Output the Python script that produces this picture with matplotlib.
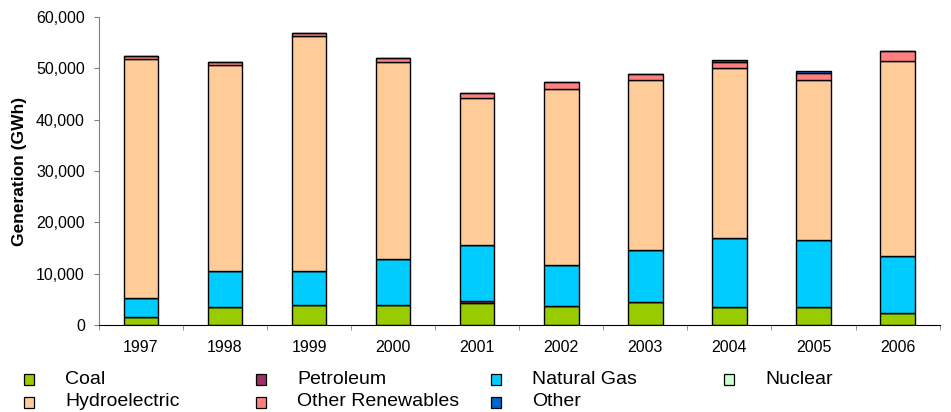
import numpy as np
import matplotlib.pyplot as plt
from matplotlib.patches import Rectangle
from matplotlib.ticker import FuncFormatter

plt.rcParams['font.family'] = ['Liberation Sans', 'DejaVu Sans']

years = ['1997', '1998', '1999', '2000', '2001', '2002', '2003', '2004', '2005', '2006']

# generation by source, GWh
coal = [1480, 3500, 3820, 3820, 4340, 3700, 4400, 3430, 3430, 2260]
petroleum = [40, 40, 40, 40, 400, 60, 60, 40, 40, 40]
natural_gas = [3740, 6980, 6660, 9060, 10770, 7990, 10210, 13480, 13150, 11140]
nuclear = [0, 0, 0, 0, 0, 0, 0, 0, 0, 0]
hydro = [46560, 40060, 45710, 38320, 28770, 34210, 32980, 33040, 31110, 38050]
other_renew = [640, 720, 650, 700, 910, 1290, 1300, 1310, 1420, 1820]
other = [0, 0, 0, 0, 0, 0, 0, 320, 390, 0]

series = [
    ('Coal', coal, '#99CC00'),
    ('Petroleum', petroleum, '#993366'),
    ('Natural Gas', natural_gas, '#00CCFF'),
    ('Nuclear', nuclear, '#CCFFCC'),
    ('Hydroelectric', hydro, '#FFCC99'),
    ('Other Renewables', other_renew, '#FF8080'),
    ('Other', other, '#0066CC'),
]

fig = plt.figure(figsize=(9.51, 4.12), dpi=100)
ax = fig.add_axes([0.104, 0.211, 0.884, 0.748])

x = np.arange(len(years))
bottom = np.zeros(len(years))
for name, vals, col in series:
    vals = np.array(vals, dtype=float)
    ax.bar(x, vals, width=0.41, bottom=bottom, color=col,
           edgecolor='black', linewidth=1.0)
    bottom += vals

ax.set_xlim(-0.5, len(years) - 0.5)
ax.set_ylim(0, 60000)
ax.set_yticks(np.arange(0, 60001, 10000))
ax.yaxis.set_major_formatter(FuncFormatter(lambda v, p: f'{int(v):,}'))
ax.set_xticks(x)
ax.set_xticklabels(years)
ax.set_xticks(np.arange(-0.5, len(years), 1), minor=True)
ax.tick_params(axis='x', which='major', length=0, labelsize=11.5, pad=11)
ax.tick_params(axis='x', which='minor', length=3.5, color='#808080')
ax.tick_params(axis='y', length=3.6, labelsize=11.5, color='#808080', pad=6.5)
ax.spines['top'].set_visible(False)
ax.spines['right'].set_visible(False)
ax.spines['left'].set_color('#808080')
ax.spines['bottom'].set_color('black')
ax.set_ylabel('Generation (GWh)', fontsize=12.5, fontweight='bold')
ax.yaxis.set_label_coords(-0.086, 0.5)

# legend laid out in an evenly spaced grid below the axes
col_x = [29, 261, 496, 729]
row_y = [379, 402]
W, H = 951.0, 412.0
for i, (name, vals, col) in enumerate(series):
    r, c = divmod(i, 4)
    mx, my = col_x[c], row_y[r]
    fig.add_artist(Rectangle(((mx - 5) / W, 1 - (my + 6) / H), 10 / W, 11 / H,
                             transform=fig.transFigure, facecolor=col,
                             edgecolor='black', linewidth=0.9))
    fig.text((mx + 36) / W, 1 - my / H, name, fontsize=14, va='center', ha='left')

fig.savefig('out.png', dpi=100)
